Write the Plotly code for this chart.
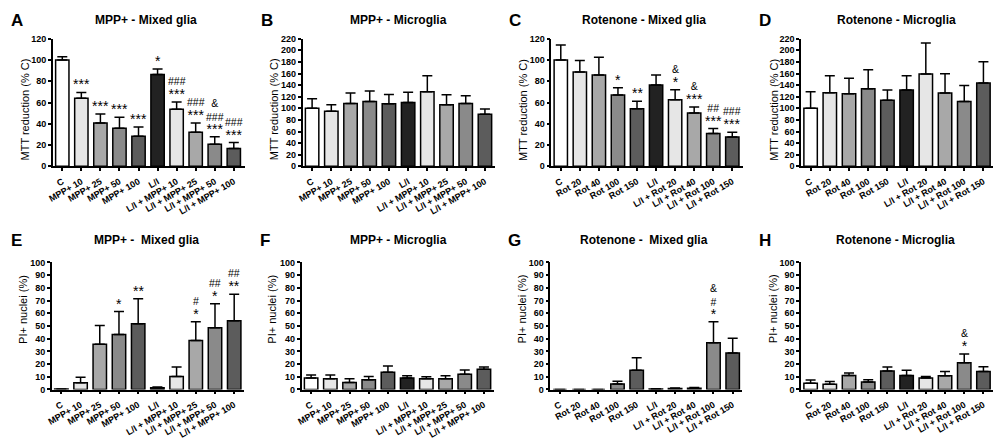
import plotly.graph_objects as go

# group labels
mpp_labels = ["C", "MPP+ 10", "MPP+ 25", "MPP+ 50", "MPP+ 100", "L/I",
              "L/I + MPP+ 10", "L/I + MPP+ 25", "L/I + MPP+ 50", "L/I + MPP+ 100"]
rot_labels = ["C", "Rot 20", "Rot 40", "Rot 100", "Rot 150", "L/I",
              "L/I + Rot 20", "L/I + Rot 40", "L/I + Rot 100", "L/I + Rot 150"]

bar_colors = ["#ffffff", "#e6e6e6", "#a8a8a8", "#8a8a8a", "#5c5c5c",
              "#222222", "#e6e6e6", "#a8a8a8", "#8a8a8a", "#5c5c5c"]

# A - MTT, MPP+ mixed glia
a_mean = [100, 64, 40.7, 35.8, 28.2, 86.3, 53.6, 32.1, 20.8, 16.8]
a_err = [3, 5.5, 8.6, 10.4, 8.8, 5.2, 7, 8.6, 7.1, 5.5]
a_sig = ["", "***", "***", "***", "***", "*", "###<br>***", "###<br>***",
         "&<br>###<br>***", "###<br>***"]

# B - MTT, MPP+ microglia
b_mean = [100, 94.8, 108.3, 111.7, 107.7, 110, 128.6, 106, 108.3, 89.7]
b_err = [16.7, 11.2, 18, 18, 16.3, 17.5, 27.6, 17.5, 13.5, 9]
b_sig = [""] * 10

# C - MTT, rotenone mixed glia
c_mean = [100, 88.8, 86, 67, 54.2, 76.5, 62.7, 50.2, 30.9, 27.5]
c_err = [14.2, 10.7, 16.5, 7, 7, 9.5, 9.2, 5.5, 4.6, 4.6]
c_sig = ["", "", "", "*", "**", "", "&<br>*", "&<br>***", "##<br>***", "###<br>***"]

# D - MTT, rotenone microglia
d_mean = [100, 126.9, 125.2, 133.7, 113.9, 131.4, 159, 126.3, 111.7, 143.8]
d_err = [28.6, 29.3, 26.5, 32.7, 17.5, 24.8, 53.6, 33.3, 27.6, 36.7]
d_sig = [""] * 10

# E - PI+, MPP+ mixed glia
e_mean = [0.3, 5.4, 35.6, 43.3, 51.8, 1.3, 10.3, 38.5, 48.5, 54.1]
e_err = [0, 4.3, 14.7, 18, 19.7, 0.7, 7.4, 14.8, 18.9, 20.8]
e_sig = ["", "", "", "*", "**", "", "", "#<br>*", "##<br>*", "##<br>**"]

# F - PI+, MPP+ microglia
f_mean = [9, 8.5, 5.6, 7.7, 13.6, 9, 8.5, 8.5, 12, 15.9]
f_err = [2.5, 3, 2.9, 2.6, 4.9, 1.8, 1.5, 2.3, 3.4, 1.8]
f_sig = [""] * 10

# G - PI+, rotenone mixed glia
g_mean = [0, 0, 0, 4.4, 15.1, 0.3, 0.8, 1.0, 36.7, 28.7]
g_err = [0, 0, 0, 2, 9.8, 0.2, 0.4, 0.5, 16.6, 11.6]
g_sig = ["", "", "", "", "", "", "", "", "&<br>#<br>*", ""]

# H - PI+, rotenone microglia
h_mean = [4.9, 4.1, 11, 5.9, 14.6, 11, 9, 10.8, 21, 14.1]
h_err = [2.5, 2.1, 2, 1.8, 3.1, 4.1, 1.3, 3.3, 7, 3.8]
h_sig = ["", "", "", "", "", "", "", "", "&<br>*", ""]

W, H = 1000, 447
top_row = [(447 - 165) / H, (447 - 34.5) / H]
bot_row = [(447 - 393.3) / H, (447 - 263.3) / H]

# letter, title, labels, mean, err, sig, ymax, dtick, ytitle, x-domain px, row, title x px, ytitle x px, ytitle y px
panels = [
    ("A", "MPP+ - Mixed glia", mpp_labels, a_mean, a_err, a_sig, 120, 20, "MTT reduction (% C)", (48, 241), top_row, 142, 20, 107),
    ("B", "MPP+ - Microglia", mpp_labels, b_mean, b_err, b_sig, 220, 20, "MTT reduction (% C)", (299, 492), top_row, 395, 270, 107),
    ("C", "Rotenone - Mixed glia", rot_labels, c_mean, c_err, c_sig, 120, 20, "MTT reduction (% C)", (549, 742), top_row, 642, 520, 107),
    ("D", "Rotenone - Microglia", rot_labels, d_mean, d_err, d_sig, 220, 20, "MTT reduction (% C)", (800, 993), top_row, 896, 772, 107),
    ("E", "MPP+ -  Mixed glia", mpp_labels, e_mean, e_err, e_sig, 100, 10, "PI+ nuclei (%)", (47, 240), bot_row, 142, 18, 311),
    ("F", "MPP+ - Microglia", mpp_labels, f_mean, f_err, f_sig, 100, 10, "PI+ nuclei (%)", (298, 491), bot_row, 395, 268, 311),
    ("G", "Rotenone -  Mixed glia", rot_labels, g_mean, g_err, g_sig, 100, 10, "PI+ nuclei (%)", (548, 741), bot_row, 642, 520, 311),
    ("H", "Rotenone - Microglia", rot_labels, h_mean, h_err, h_sig, 100, 10, "PI+ nuclei (%)", (800, 993), bot_row, 895, 772, 311),
]

font = "Liberation Sans, Arial, sans-serif"
fig = go.Figure()
annotations = []
layout = {}


def mark_text(s):
    # stars are drawn a little larger than the hash / ampersand marks
    lines = []
    for part in s.split("<br>"):
        if part.startswith("*"):
            lines.append(f"<span style='font-size:14px'>{part}</span>")
        else:
            lines.append(part)
    return "<br>".join(lines)


for i, (letter, title, labels, mean, err, sig, ymax, dtick, ytitle, xd, yd, tx, ytx, yty) in enumerate(panels):
    n = i + 1
    xa = "x" if n == 1 else f"x{n}"
    ya = "y" if n == 1 else f"y{n}"
    fig.add_trace(go.Bar(
        x=labels, y=mean, xaxis=xa, yaxis=ya,
        marker=dict(color=bar_colors, line=dict(color="black", width=1.5)),
        error_y=dict(type="data", array=err, arrayminus=[0] * len(err), symmetric=False,
                     color="black", thickness=1.5, width=5),
        hoverinfo="x+y",
    ))
    layout["xaxis" if n == 1 else f"xaxis{n}"] = dict(
        domain=[xd[0] / W, xd[1] / W], anchor=ya, type="category",
        showline=True, linecolor="black", linewidth=1.5,
        ticks="outside", ticklen=3, tickwidth=1.5, tickcolor="black",
        tickangle=-30, ticklabelstandoff=2,
        tickfont=dict(family=font, size=9, color="black", weight="bold"),
        showgrid=False, fixedrange=True,
    )
    layout["yaxis" if n == 1 else f"yaxis{n}"] = dict(
        domain=yd, anchor=xa, range=[0, ymax], dtick=dtick,
        showline=True, linecolor="black", linewidth=1.5,
        ticks="outside", ticklen=3, tickwidth=1.5, tickcolor="black",
        tickfont=dict(family=font, size=9, color="black", weight="bold"),
        showgrid=False, zeroline=False, fixedrange=True,
    )
    # panel letter, title and y-axis title
    top_px = 4 if yd is top_row else 229
    annotations.append(dict(text=f"<b>{letter}</b>", xref="paper", yref="paper",
                            x=(xd[0] - 44) / W if letter not in "AE" else 4 / W,
                            y=1 - top_px / H, xanchor="left", yanchor="top", showarrow=False,
                            font=dict(family=font, size=17, color="black")))
    annotations.append(dict(text=f"<b>{title}</b>", xref="paper", yref="paper",
                            x=tx / W, y=1 - (top_px + 11) / H, xanchor="center", yanchor="middle",
                            showarrow=False, font=dict(family=font, size=12, color="black")))
    annotations.append(dict(text=ytitle, xref="paper", yref="paper", textangle=-90,
                            x=ytx / W, y=1 - yty / H, xanchor="center", yanchor="middle",
                            showarrow=False, font=dict(family=font, size=11, color="black")))
    # significance marks
    for lab, m, e, s in zip(labels, mean, err, sig):
        if s:
            annotations.append(dict(text=mark_text(s), x=lab, y=m + e, xref=xa, yref=ya,
                                    xanchor="center", yanchor="bottom", yshift=-2,
                                    showarrow=False,
                                    font=dict(family=font, size=10.5, color="black")))

fig.update_layout(
    width=W, height=H, margin=dict(l=0, r=0, t=0, b=0),
    plot_bgcolor="white", paper_bgcolor="white",
    showlegend=False, bargap=0.3, annotations=annotations,
    **layout,
)

fig.write_html("out.html", config={"displayModeBar": False},
               post_script="document.body.style.margin='0px';")
